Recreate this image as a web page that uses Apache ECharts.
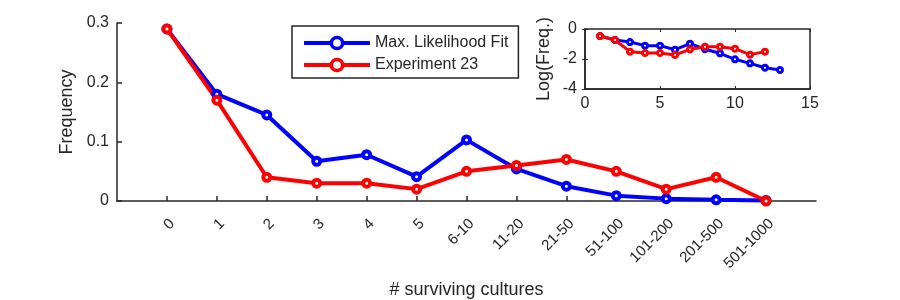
<!DOCTYPE html>
<html lang="en">
<head>
    <meta charset="UTF-8">
    <title>Surviving cultures</title>
    <script src="https://cdn.jsdelivr.net/npm/echarts@6/dist/echarts.min.js"></script>
    <style>
        body { margin: 0; background: #fff; }
        #chart { width: 900px; height: 300px; }
    </style>
</head>
<body>
<div id="chart"></div>
<script type="text/javascript">
    // main panel
    var categories = ['0', '1', '2', '3', '4', '5', '6-10', '11-20', '21-50', '51-100', '101-200', '201-500', '501-1000'];
    var fitFreq = [0.29, 0.18, 0.145, 0.067, 0.078, 0.041, 0.103, 0.054, 0.025, 0.009, 0.004, 0.002, 0.001];
    var expFreq = [0.29, 0.17, 0.04, 0.03, 0.03, 0.02, 0.05, 0.06, 0.07, 0.05, 0.02, 0.04, 0.0];

    // inset (log scale)
    var insetX = [1, 2, 3, 4, 5, 6, 7, 8, 9, 10, 11, 12, 13];
    var fitLog = [-0.47, -0.73, -0.87, -1.11, -1.11, -1.38, -0.98, -1.35, -1.62, -2.02, -2.29, -2.58, -2.73];
    var expLog = [-0.47, -0.73, -1.51, -1.6, -1.6, -1.73, -1.36, -1.18, -1.18, -1.31, -1.71, -1.51];

    var axisColor = '#262626';
    var font = 'Liberation Sans';
    var catIdx = categories.map(function (c, i) { return i; });

    function pairs(xs, ys) {
        return ys.map(function (v, i) { return [xs[i], v]; });
    }

    function lineSeries(name, color, data, xi, yi) {
        var main = xi === 0;
        return {
            name: name,
            type: 'line',
            xAxisIndex: xi,
            yAxisIndex: yi,
            data: data,
            symbol: 'circle',
            symbolSize: main ? 7 : 5,
            lineStyle: { color: color, width: main ? 4 : 3 },
            itemStyle: { color: '#fff', borderColor: color, borderWidth: main ? 4 : 3 },
            animation: false
        };
    }

    var chartDom = document.getElementById('chart');
    var myChart = echarts.init(chartDom);
    var option = {
        backgroundColor: '#fff',
        textStyle: { fontFamily: font, color: axisColor },
        grid: [
            { left: 117, top: 23, right: 84, bottom: 99, outerBoundsMode: 'none', containLabel: false },
            { left: 585, top: 29, width: 225, height: 60, outerBoundsMode: 'none', containLabel: false,
              show: true, borderColor: axisColor, borderWidth: 1.5 }
        ],
        legend: {
            data: ['Max. Likelihood Fit', 'Experiment 23'],
            orient: 'vertical',
            left: 292,
            top: 26,
            padding: [9, 10, 5, 10],
            itemWidth: 66,
            itemHeight: 14,
            itemGap: 6,
            borderColor: axisColor,
            borderWidth: 1.5,
            backgroundColor: '#fff',
            itemStyle: { borderWidth: 3.5 },
            lineStyle: { width: 4 },
            textStyle: { fontSize: 16, fontFamily: font, color: axisColor }
        },
        xAxis: [
            {
                type: 'value', gridIndex: 0, min: -1, max: 13, interval: 1,
                name: '# surviving cultures', nameLocation: 'middle', nameGap: 80,
                nameTextStyle: { fontSize: 18, color: axisColor },
                axisLine: { lineStyle: { color: axisColor, width: 1.5 } },
                axisTick: { inside: true, length: 5, customValues: catIdx, lineStyle: { color: axisColor, width: 1.5 } },
                axisLabel: {
                    customValues: catIdx, rotate: 45, margin: 15, fontSize: 15, color: axisColor,
                    verticalAlign: 'top',
                    formatter: function (v) { return categories[v] || ''; }
                },
                splitLine: { show: false }
            },
            {
                type: 'value', gridIndex: 1, min: 0, max: 15, interval: 5,
                axisLine: { onZero: false, lineStyle: { color: axisColor, width: 1.5 } },
                axisTick: { inside: true, length: 3, lineStyle: { color: axisColor } },
                axisLabel: { fontSize: 16, margin: 7, color: axisColor },
                splitLine: { show: false }
            },
            {
                type: 'value', gridIndex: 1, min: 0, max: 15, interval: 5, position: 'top',
                axisLine: { show: false },
                axisTick: { inside: true, length: 3, lineStyle: { color: axisColor } },
                axisLabel: { show: false },
                splitLine: { show: false }
            }
        ],
        yAxis: [
            {
                type: 'value', gridIndex: 0, min: 0, max: 0.3, interval: 0.1,
                name: 'Frequency', nameLocation: 'middle', nameGap: 41,
                nameTextStyle: { fontSize: 18, color: axisColor },
                axisLine: { show: true, onZero: false, lineStyle: { color: axisColor, width: 1.5 } },
                axisTick: { show: true, inside: true, length: 5, lineStyle: { color: axisColor, width: 1.5 } },
                axisLabel: { fontSize: 16, margin: 8, color: axisColor },
                splitLine: { show: false }
            },
            {
                type: 'value', gridIndex: 1, min: -4, max: 0, interval: 2,
                name: 'Log(Freq.)', nameLocation: 'middle', nameGap: 32,
                nameTextStyle: { fontSize: 18, color: axisColor },
                axisLine: { show: true, onZero: false, lineStyle: { color: axisColor, width: 1.5 } },
                axisTick: { show: true, inside: true, length: 3, lineStyle: { color: axisColor } },
                axisLabel: { fontSize: 16, margin: 8, color: axisColor },
                splitLine: { show: false }
            },
            {
                type: 'value', gridIndex: 1, min: -4, max: 0, interval: 2, position: 'right',
                axisLine: { show: false },
                axisTick: { show: true, inside: true, length: 3, lineStyle: { color: axisColor } },
                axisLabel: { show: false },
                splitLine: { show: false }
            }
        ],
        series: [
            lineSeries('Max. Likelihood Fit', '#0000ff', pairs(catIdx, fitFreq), 0, 0),
            lineSeries('Experiment 23', '#ff0000', pairs(catIdx, expFreq), 0, 0),
            lineSeries('Max. Likelihood Fit', '#0000ff', pairs(insetX, fitLog), 1, 1),
            lineSeries('Experiment 23', '#ff0000', pairs(insetX, expLog), 1, 1)
        ]
    };

    option && myChart.setOption(option);
</script>
</body>
</html>
